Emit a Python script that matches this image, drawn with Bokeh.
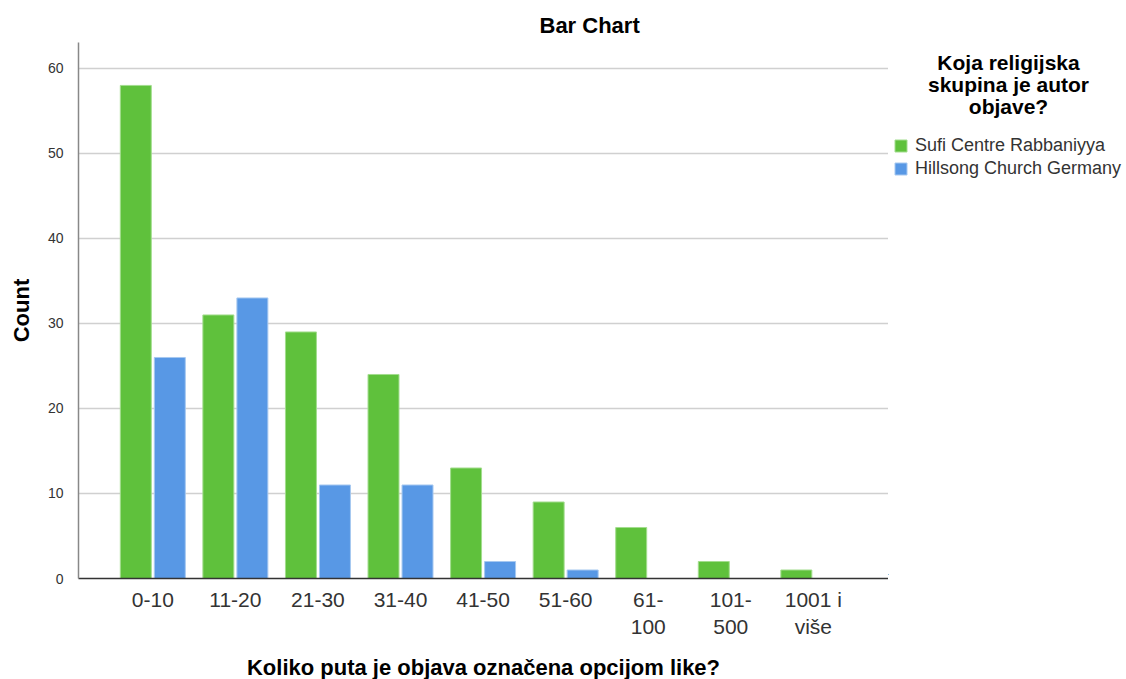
from bokeh.plotting import figure
from bokeh.layouts import row
from bokeh.models import ColumnDataSource, FixedTicker, Legend, LegendItem, Label, Range1d
from bokeh.embed import file_html
from bokeh.resources import INLINE

# ---- data ----
categories = ["0-10", "11-20", "21-30", "31-40", "41-50", "51-60",
              "61-\n100", "101-\n500", "1001 i\nviše"]
sufi = [58, 31, 29, 24, 13, 9, 6, 2, 1]
hillsong = [26, 33, 11, 11, 2, 1, 0, 0, 0]
series_names = ["Sufi Centre Rabbaniyya", "Hillsong Church Germany"]
y_ticks = [0, 10, 20, 30, 40, 50, 60]
legend_title_lines = ["Koja religijska", "skupina je autor", "objave?"]
chart_title = "Bar Chart"
x_title = "Koliko puta je objava označena opcijom like?"
y_title = "Count"

FONT = "Liberation Sans"
GREEN = "#5fc13c"
BLUE = "#5898e5"
GREEN_EDGE = "#a3dd8e"
BLUE_EDGE = "#a6c8f0"

idx = list(range(len(categories)))
src_s = ColumnDataSource(dict(x=[i - 0.206 for i in idx], top=sufi))
hx = [i + 0.206 for i, v in zip(idx, hillsong) if v > 0]
hv = [v for v in hillsong if v > 0]
src_h = ColumnDataSource(dict(x=hx, top=hv))

p = figure(frame_width=810, frame_height=536,
           min_border_left=78, min_border_right=0,
           min_border_top=42, min_border_bottom=101,
           x_range=Range1d(-0.9, 8.91), y_range=Range1d(0, 63.05),
           output_backend="svg", toolbar_location=None,
           title=chart_title)

p.vbar(x="x", top="top", width=0.375, source=src_s,
       fill_color=GREEN, line_color=GREEN_EDGE, line_width=1)
p.vbar(x="x", top="top", width=0.375, source=src_h,
       fill_color=BLUE, line_color=BLUE_EDGE, line_width=1)

p.outline_line_color = None
p.background_fill_color = "white"
p.border_fill_color = "white"

p.title.text_font = FONT
p.title.text_font_size = "22px"
p.title.text_font_style = "bold"
p.title.text_color = "#000000"
p.title.align = "left"
p.title.offset = 461
p.title.standoff = 9

# x axis
p.xaxis.ticker = FixedTicker(ticks=idx)
p.xaxis.major_label_overrides = {i: c for i, c in zip(idx, categories)}
p.xaxis.major_label_text_font = FONT
p.xaxis.major_label_text_font_size = "21px"
p.xaxis.major_label_text_color = "#333333"
p.xaxis.major_tick_line_color = None
p.xaxis.minor_tick_line_color = None
p.xaxis.major_label_standoff = 3
p.xaxis.axis_line_color = "#333333"
p.xaxis.axis_line_width = 1.5
p.xaxis.axis_label = x_title
p.xaxis.axis_label_text_font = FONT
p.xaxis.axis_label_text_font_size = "22px"
p.xaxis.axis_label_text_font_style = "bold"
p.xaxis.axis_label_text_color = "#000000"
p.xaxis.axis_label_standoff = 14

# y axis
p.yaxis.ticker = FixedTicker(ticks=y_ticks)
p.yaxis.major_label_text_font = FONT
p.yaxis.major_label_text_font_size = "14px"
p.yaxis.major_label_text_color = "#333333"
p.yaxis.major_tick_line_color = None
p.yaxis.minor_tick_line_color = None
p.yaxis.major_label_standoff = 9
p.yaxis.axis_line_color = "#888888"
p.yaxis.axis_line_width = 1.5
p.yaxis.axis_label = y_title
p.yaxis.axis_label_text_font = FONT
p.yaxis.axis_label_text_font_size = "22px"
p.yaxis.axis_label_text_font_style = "bold"
p.yaxis.axis_label_text_color = "#000000"
p.yaxis.axis_label_standoff = 11

p.xgrid.grid_line_color = None
p.ygrid.grid_line_color = "#d0d0d0"
p.ygrid.grid_line_width = 1.5

# ---- legend panel (separate figure to the right; its frame aligns with p's) ----
LW, LH = 238, 679
FRAME_BOTTOM = 578  # page y of the aligned frame bottom
q = figure(width=LW, height=LH, min_border=0,
           x_range=Range1d(100, 101), y_range=Range1d(1000, 1001),
           x_axis_location=None, y_axis_location=None,
           output_backend="svg", toolbar_location=None)
q.grid.visible = False
q.outline_line_color = None
q.background_fill_color = "white"
q.border_fill_color = "white"

# proxies for the legend swatches (same data, entirely outside this panel's view)
g1 = q.vbar(x="x", top="top", width=0.375, source=src_s,
            fill_color=GREEN, line_color=GREEN_EDGE, line_width=1)
g2 = q.vbar(x="x", top="top", width=0.375, source=src_h,
            fill_color=BLUE, line_color=BLUE_EDGE, line_width=1)

legend = Legend(items=[LegendItem(label=series_names[0], renderers=[g1]),
                       LegendItem(label=series_names[1], renderers=[g2])],
                location=(5, FRAME_BOTTOM - 183))
legend.label_text_font = FONT
legend.label_text_font_size = "18px"
legend.label_text_color = "#333333"
legend.glyph_width = 15
legend.glyph_height = 15
legend.label_standoff = 7
legend.spacing = 2
legend.padding = 0
legend.margin = 0
legend.border_line_color = None
legend.background_fill_alpha = 0
q.add_layout(legend, "center")

baselines = [66, 88, 110]
for line, b in zip(legend_title_lines, baselines):
    q.add_layout(Label(x=120, y=FRAME_BOTTOM - b, x_units="screen", y_units="screen",
                       text=line, text_align="center", text_baseline="alphabetic",
                       text_font=FONT, text_font_size="21px", text_font_style="bold",
                       text_color="#000000"))

layout = row(p, q)
open("out.html", "w").write(file_html(layout, INLINE))
